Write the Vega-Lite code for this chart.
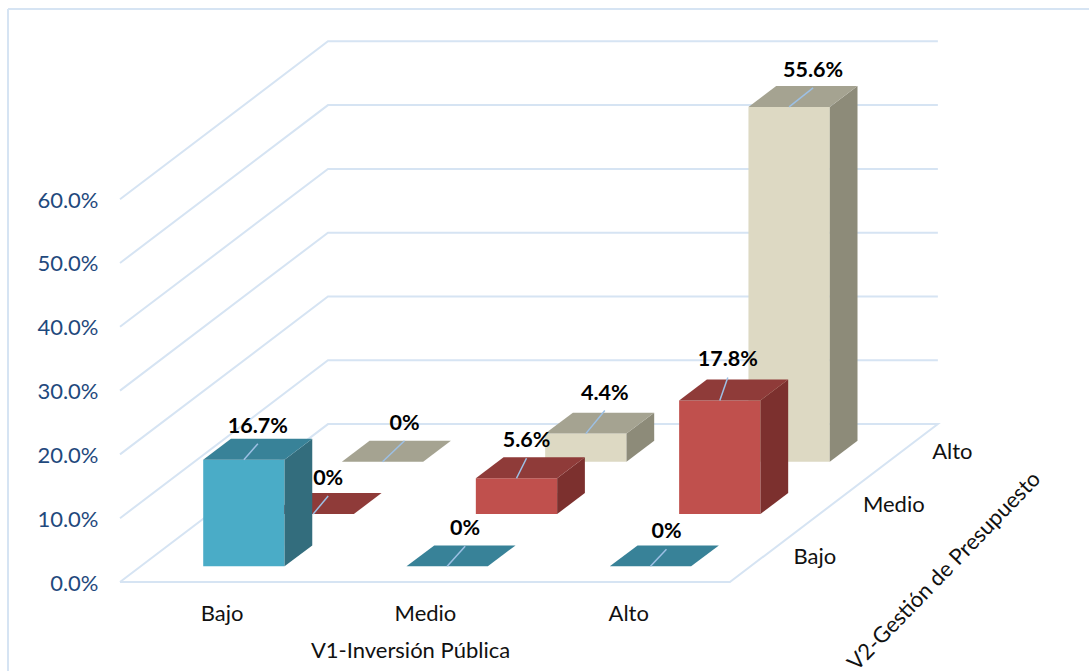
{
"$schema":"https://vega.github.io/schema/vega-lite/v6.json",
"autosize":{"type":"none"},
"padding":{"left":100,"top":0,"right":0,"bottom":71},
"width":989,"height":600,
"background":"white",
"config":{"view":{"stroke":null},"font":"Lato"},
"datasets":{
"bars":[
{"v1":"Bajo","v2":"Alto","value":0},
{"v1":"Medio","v2":"Alto","value":0.044},
{"v1":"Alto","v2":"Alto","value":0.556},
{"v1":"Bajo","v2":"Medio","value":0},
{"v1":"Medio","v2":"Medio","value":0.056},
{"v1":"Alto","v2":"Medio","value":0.178},
{"v1":"Bajo","v2":"Bajo","value":0.167},
{"v1":"Medio","v2":"Bajo","value":0},
{"v1":"Alto","v2":"Bajo","value":0}
],
"grid":[{"level":0},{"level":0.1},{"level":0.2},{"level":0.3},{"level":0.4},{"level":0.5},{"level":0.6}],
"depthLabels":[{"v2":"Bajo"},{"v2":"Medio"},{"v2":"Alto"}]
},
"encoding":{
"x":{"field":"u","type":"quantitative","scale":{"domain":[-0.0984,4.7664],"nice":false,"zero":false},
 "axis":{"values":[0.5,1.5,2.5],"labelExpr":"['Bajo','Medio','Alto'][floor(datum.value)]","domain":false,"ticks":false,"grid":false,"labelFontSize":22,"labelColor":"#111111","labelPadding":3,"labelFont":"Lato",
 "title":"V1-Inversión Pública","titleFontSize":22,"titleFontWeight":"normal","titleColor":"#111111","titleFont":"Lato","titleX":310,"titleY":62,"titleBaseline":"bottom"}},
"y":{"field":"hh","type":"quantitative","scale":{"domain":[-0.0282,0.9122],"nice":false,"zero":false},
 "axis":{"values":[0,0.1,0.2,0.3,0.4,0.5,0.6],"format":".1%","domain":false,"ticks":false,"grid":false,"labelFontSize":22,"labelColor":"#1f497d","labelPadding":2,"labelOffset":1,"labelFont":"Lato","title":null}}
},
"layer":[
{"data":{"name":"grid"},
 "transform":[
 {"calculate":"datum.level==0 ? [0,1,2,3,4] : [0,1,2]","as":"corner"},
 {"flatten":["corner"]},
 {"calculate":"[0,1.023,4.023,3,0][datum.corner]","as":"u"},
 {"calculate":"datum.level+[0,0.2475,0.2475,0,0][datum.corner]","as":"hh"}],
 "mark":{"type":"line","stroke":"#d6e4f3","strokeWidth":2},
 "encoding":{"detail":{"field":"level"},"order":{"field":"corner","type":"quantitative"}}},
{"data":{"name":"bars"},
 "transform":[
 {"filter":"datum.v2=='Alto'"},
 {"calculate":"indexof(['Bajo','Medio','Alto'],datum.v1)","as":"c"},
 {"calculate":"indexof(['Bajo','Medio','Alto'],datum.v2)","as":"d"},
 {"calculate":"['front','side','top']","as":"face"},
 {"flatten":["face"]},
 {"calculate":"[0,1,2,3]","as":"vertex"},
 {"flatten":["vertex"]},
 {"calculate":"datum.face=='side' ? 1 : [0,1,1,0][datum.vertex]","as":"s"},
 {"calculate":"datum.face=='front' ? 0 : datum.face=='side' ? [0,1,1,0][datum.vertex] : [0,0,1,1][datum.vertex]","as":"t"},
 {"calculate":"datum.face=='top' ? 1 : [0,0,1,1][datum.vertex]","as":"l"},
 {"calculate":"datum.c+0.307+0.4*datum.s+0.341*(datum.d+0.3+0.4*datum.t)","as":"u"},
 {"calculate":"datum.value*datum.l+0.082*(datum.d+0.3+0.4*datum.t)","as":"hh"},
 {"calculate":"datum.v1+'/'+datum.v2+'/'+datum.face","as":"piece"},
 {"calculate":"datum.v2+'/'+datum.face","as":"shade"}],
 "mark":{"type":"line","strokeWidth":0,"stroke":null},
 "encoding":{
  "detail":{"field":"piece"},
  "order":{"field":"vertex","type":"quantitative"},
  "fill":{"field":"shade","type":"nominal","legend":null,"scale":{
   "domain":["Bajo/front","Bajo/side","Bajo/top","Medio/front","Medio/side","Medio/top","Alto/front","Alto/side","Alto/top"],
   "range":["#4aacc7","#336d7d","#388298","#c0504d","#7c302e","#8f3b39","#ddd9c3","#8d8b79","#a5a391"]}}}},
{"data":{"name":"bars"},
 "transform":[
 {"filter":"datum.v2=='Medio'"},
 {"calculate":"indexof(['Bajo','Medio','Alto'],datum.v1)","as":"c"},
 {"calculate":"indexof(['Bajo','Medio','Alto'],datum.v2)","as":"d"},
 {"calculate":"['front','side','top']","as":"face"},
 {"flatten":["face"]},
 {"calculate":"[0,1,2,3]","as":"vertex"},
 {"flatten":["vertex"]},
 {"calculate":"datum.face=='side' ? 1 : [0,1,1,0][datum.vertex]","as":"s"},
 {"calculate":"datum.face=='front' ? 0 : datum.face=='side' ? [0,1,1,0][datum.vertex] : [0,0,1,1][datum.vertex]","as":"t"},
 {"calculate":"datum.face=='top' ? 1 : [0,0,1,1][datum.vertex]","as":"l"},
 {"calculate":"datum.c+0.307+0.4*datum.s+0.341*(datum.d+0.3+0.4*datum.t)","as":"u"},
 {"calculate":"datum.value*datum.l+0.082*(datum.d+0.3+0.4*datum.t)","as":"hh"},
 {"calculate":"datum.v1+'/'+datum.v2+'/'+datum.face","as":"piece"},
 {"calculate":"datum.v2+'/'+datum.face","as":"shade"}],
 "mark":{"type":"line","strokeWidth":0,"stroke":null},
 "encoding":{
  "detail":{"field":"piece"},
  "order":{"field":"vertex","type":"quantitative"},
  "fill":{"field":"shade","type":"nominal","legend":null}}},
{"data":{"name":"bars"},
 "transform":[
 {"filter":"datum.v2=='Bajo'"},
 {"calculate":"indexof(['Bajo','Medio','Alto'],datum.v1)","as":"c"},
 {"calculate":"indexof(['Bajo','Medio','Alto'],datum.v2)","as":"d"},
 {"calculate":"['front','side','top']","as":"face"},
 {"flatten":["face"]},
 {"calculate":"[0,1,2,3]","as":"vertex"},
 {"flatten":["vertex"]},
 {"calculate":"datum.face=='side' ? 1 : [0,1,1,0][datum.vertex]","as":"s"},
 {"calculate":"datum.face=='front' ? 0 : datum.face=='side' ? [0,1,1,0][datum.vertex] : [0,0,1,1][datum.vertex]","as":"t"},
 {"calculate":"datum.face=='top' ? 1 : [0,0,1,1][datum.vertex]","as":"l"},
 {"calculate":"datum.c+0.307+0.4*datum.s+0.341*(datum.d+0.3+0.4*datum.t)","as":"u"},
 {"calculate":"datum.value*datum.l+0.082*(datum.d+0.3+0.4*datum.t)","as":"hh"},
 {"calculate":"datum.v1+'/'+datum.v2+'/'+datum.face","as":"piece"},
 {"calculate":"datum.v2+'/'+datum.face","as":"shade"}],
 "mark":{"type":"line","strokeWidth":0,"stroke":null},
 "encoding":{
  "detail":{"field":"piece"},
  "order":{"field":"vertex","type":"quantitative"},
  "fill":{"field":"shade","type":"nominal","legend":null}}},
{"data":{"name":"bars"},
 "transform":[
 {"calculate":"indexof(['Bajo','Medio','Alto'],datum.v1)","as":"c"},
 {"calculate":"indexof(['Bajo','Medio','Alto'],datum.v2)","as":"d"},
 {"calculate":"datum.d*3+datum.c","as":"k"},
 {"calculate":"datum.c+0.507+0.341*(datum.d+0.3)","as":"u"},
 {"calculate":"datum.value+0.082*(datum.d+0.3)","as":"hh"},
 {"calculate":"datum.u+[14,18,16,15,10,8,22,19,24][datum.k]/203.3","as":"u2"},
 {"calculate":"datum.hh+([33,37,34,35,37,40,38,40,36][datum.k]-17)/638","as":"hh2"}],
 "mark":{"type":"rule","stroke":"#9dc0e5","strokeWidth":1.5},
 "encoding":{"x2":{"field":"u2"},"y2":{"field":"hh2"}}},
{"data":{"name":"bars"},
 "transform":[
 {"calculate":"indexof(['Bajo','Medio','Alto'],datum.v1)","as":"c"},
 {"calculate":"indexof(['Bajo','Medio','Alto'],datum.v2)","as":"d"},
 {"calculate":"datum.d*3+datum.c","as":"k"},
 {"calculate":"datum.c+0.507+0.341*(datum.d+0.3)+[14,18,16,15,10,8,22,19,24][datum.k]/203.3","as":"u"},
 {"calculate":"datum.value+0.082*(datum.d+0.3)+[33,37,34,35,37,40,38,40,36][datum.k]/638","as":"hh"}],
 "mark":{"type":"text","fontWeight":"bold","fontSize":21.5,"color":"#000000","font":"Lato","baseline":"middle"},
 "encoding":{"text":{"field":"value","type":"quantitative","format":".1~%"}}},
{"data":{"name":"depthLabels"},
 "transform":[
 {"calculate":"indexof(['Bajo','Medio','Alto'],datum.v2)","as":"d"},
 {"calculate":"3+0.341*(datum.d+0.5)+29/203.3","as":"u"},
 {"calculate":"0.082*(datum.d+0.5)-1/638","as":"hh"}],
 "mark":{"type":"text","fontSize":22,"color":"#111111","font":"Lato","align":"left","baseline":"middle"},
 "encoding":{"text":{"field":"v2"}}},
{"data":{"values":[{"title":"V2-Gestión de Presupuesto","u":4.054,"hh":0.017}]},
 "mark":{"type":"text","fontSize":22,"color":"#111111","font":"Lato","angle":314,"align":"center","baseline":"middle"},
 "encoding":{"text":{"field":"title"}}},
{"data":{"values":[{"u":-0.551,"hh":0.898,"u2":-0.551,"hh2":-0.1395},{"u":-0.551,"hh":0.898,"u2":4.7664,"hh2":0.898}]},
 "mark":{"type":"rule","stroke":"#d6e4f3","strokeWidth":2},
 "encoding":{"x2":{"field":"u2"},"y2":{"field":"hh2"}}}
]
}
